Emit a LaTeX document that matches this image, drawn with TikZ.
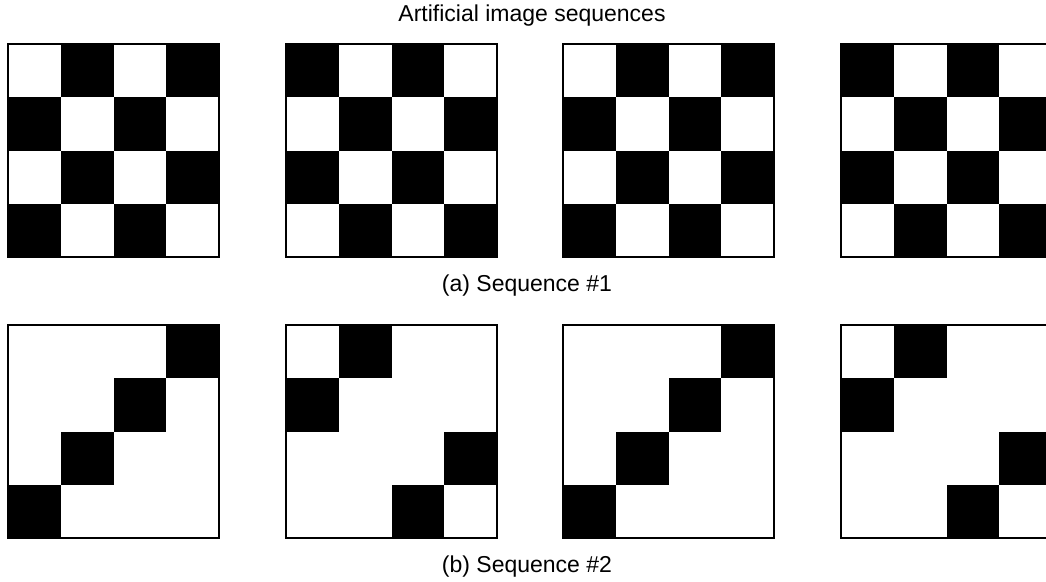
\documentclass[tikz,border=0pt]{standalone}
\usepackage{fontspec}
\setmainfont{Liberation Sans}
\usepackage{tikz}

\begin{document}
\begin{tikzpicture}[x=1pt, y=-1pt,
      every node/.style={font=\fontsize{23}{27}\selectfont},
      darkCell/.style={fill=black},
      frameBox/.style={draw=black, line width=2.5pt}]
      \useasboundingbox (0,0) rectangle (1046,581);
      \node[anchor=base] (title) at (532,21) {Artificial image sequences};

      % Sequence #1 (checkerboard, phase flips every frame)
      \foreach \f/\x in {0/8,1/286,2/563,3/841} {
            \foreach \r in {0,...,3} {
                  \foreach \c in {0,...,3} {
                        \pgfmathtruncatemacro{\k}{mod(\r+\c+\f,2)}
                        \ifnum\k=1
                              \fill[darkCell] (\x+\c*52.75,44+\r*53.25) rectangle ++(52.75,53.25);
                        \fi
                  }
            }
            \draw[frameBox] (\x,44) rectangle ++(211,213);
      }
      \node[anchor=base] (capA) at (527,291) {(a) Sequence \#1};

      % Sequence #2 (diagonal blocks)
      \foreach \x in {8,563} {
            \foreach \r/\c in {0/3,1/2,2/1,3/0} {
                  \fill[darkCell] (\x+\c*52.75,325+\r*53.25) rectangle ++(52.75,53.25);
            }
            \draw[frameBox] (\x,325) rectangle ++(211,213);
      }
      \foreach \x in {286,841} {
            \foreach \r/\c in {0/1,1/0,2/3,3/2} {
                  \fill[darkCell] (\x+\c*52.75,325+\r*53.25) rectangle ++(52.75,53.25);
            }
            \draw[frameBox] (\x,325) rectangle ++(211,213);
      }
      \node[anchor=base] (capB) at (527,572) {(b) Sequence \#2};
\end{tikzpicture}
\end{document}
